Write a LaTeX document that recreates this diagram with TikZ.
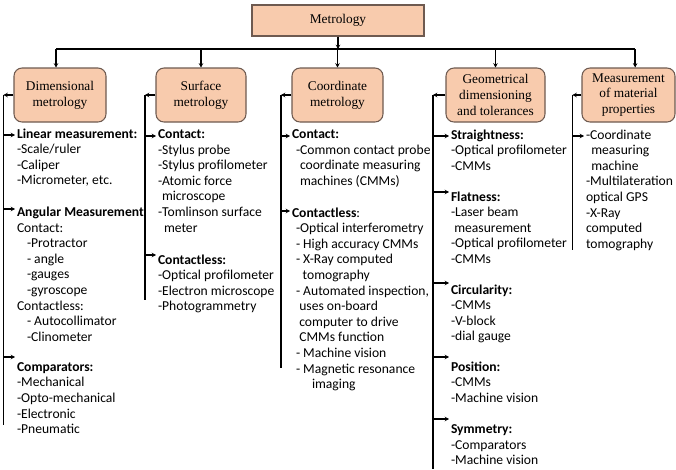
\documentclass[tikz,border=0pt]{standalone}
\usepackage{fontspec}
\setmainfont{Carlito}
\newfontfamily\boxfont{Liberation Serif}
\usetikzlibrary{arrows.meta,positioning}

\definecolor{peach}{RGB}{248,203,173}
\definecolor{boxline}{RGB}{110,90,80}
\newcommand{\ind}[1]{\hspace*{#1pt}}

\tikzset{every picture/.style={line width=0.75pt}}
\tikzset{
  topbox/.style={draw=boxline, fill=peach, line width=0.8pt, align=center, inner sep=0pt,
    font=\boxfont\fontsize{10}{11.8}\selectfont},
  subbox/.style={topbox, rounded corners=6pt, minimum height=40.5pt},
  link/.style={line width=1.2pt},
  tip/.style={link, -{Stealth[length=3.2pt,width=3.4pt]}},
  items/.style={anchor=north west, inner sep=0pt, outer sep=0pt, outer xsep=1.5pt, align=left,
    font=\fontsize{10.2}{11.7}\selectfont, execute at begin node=\strut}
}

\begin{document}
\begin{tikzpicture}[x=0.75pt,y=0.75pt,yscale=-1]
\useasboundingbox (0,0) rectangle (676,469);

% Boxes
\node[topbox, minimum width=129pt, minimum height=23.25pt] (metro) at (338,20.5) {Metrology};
\node[subbox, minimum width=69pt] (dim) at (60,95) {Dimensional\\metrology};
\node[subbox, minimum width=67.5pt] (surf) at (201,95) {Surface\\metrology};
\node[subbox, minimum width=68.25pt] (coord) at (337.5,95) {Coordinate\\metrology};
\node[subbox, minimum width=74.25pt] (gdt) at (495.5,95) {Geometrical\\dimensioning\\and tolerances};
\node[subbox, minimum width=69.75pt] (matl) at (628.5,95) {Measurement\\of material\\properties};

% Top bar
\coordinate (bar) at (338,49);
\coordinate (dimtop) at ([xshift=-3pt]dim.north);
\coordinate (matltop) at ([xshift=5pt]matl.north);
\draw[tip] (metro.south) -- (bar);
\draw[link] (dimtop |- bar) -- (matltop |- bar);
\foreach \b in {dimtop, surf.north, coord.north, gdt.north, matltop}
  \draw[tip] (\b |- bar) -- (\b);

% Spines
\coordinate (dimS) at (3.5,425);
\coordinate (surfS) at (145,300);
\coordinate (coordS) at (281,368);
\coordinate (gdtS) at (433,469);
\coordinate (matlS) at (572.5,250);
\foreach \n/\s in {dim/dimS, surf/surfS, coord/coordS, gdt/gdtS, matl/matlS}{
  \draw[tip] (\n.west) -- (\n.west -| \s);
  \draw[link] (\n.west -| \s) -- (\s);
}

% Dimensional metrology
\node[items] (lin) at (15,128.6) {\textbf{Linear measurement:}\\-Scale/ruler\\-Caliper\\-Micrometer, etc.};
\node[items] (ang) at (15,206.9) {\textbf{Angular Measurement}\\Contact:\\\ind{7.5}-Protractor\\\ind{7.5}- angle\\\ind{7.5}-gauges\\\ind{7.5}-gyroscope\\Contactless:\\\ind{7.5}- Autocollimator\\\ind{7.5}-Clinometer};
\node[items] (comp) at (15,362.3) {\textbf{Comparators:}\\-Mechanical\\-Opto-mechanical\\-Electronic\\-Pneumatic};
\draw[tip] (dimS |- 0,135) -- (lin.west |- 0,135);
\draw[tip] (dimS |- 0,209) -- (ang.west |- 0,209);
\draw[tip] (dimS |- 0,357) -- (comp.west |- 0,357);

% Surface metrology
\node[items] (scon) at (156,129.6) {\textbf{Contact:}\\-Stylus probe\\-Stylus profilometer\\-Atomic force\\\ind{3}microscope\\-Tomlinson surface\\\ind{4.5}meter};
\node[items] (sless) at (156,254.6) {\textbf{Contactless:}\\-Optical profilometer\\-Electron microscope\\-Photogrammetry};
\draw[tip] (surfS |- 0,136) -- (scon.west |- 0,136);
\draw[tip] (surfS |- 0,255) -- (sless.west |- 0,255);

% Coordinate metrology
\node[items] (ccon) at (290,129.6) {\textbf{Contact:}\\\ind{3}-Common contact probe\\\ind{6}coordinate measuring\\\ind{6}machines (CMMs)};
\node[items] (cless) at (290,207.6) {\textbf{Contactless}:\\\ind{3}-Optical interferometry\\\ind{3}- High accuracy CMMs\\\ind{3}- X-Ray computed\\\ind{8}tomography\\\ind{3}- Automated inspection,\\\ind{5.5}uses on-board\\\ind{5.5}computer to drive\\\ind{5.5}CMMs function\\\ind{3}- Machine vision\\\ind{3}- Magnetic resonance\\\ind{15}imaging};
\draw[tip] (coordS |- 0,136) -- (ccon.west |- 0,136);
\draw[tip] (coordS |- 0,211) -- (cless.west |- 0,211);

% Geometrical dimensioning and tolerances
\node[items] (straight) at (449,129.6) {\textbf{Straightness:}\\-Optical profilometer\\-CMMs};
\node[items] (flat) at (449,191.6) {\textbf{Flatness:}\\-Laser beam\\\ind{2.5}measurement\\-Optical profilometer\\-CMMs};
\node[items] (circ) at (449,284.6) {\textbf{Circularity:}\\-CMMs\\-V-block\\-dial gauge};
\node[items] (pos) at (449,361.6) {\textbf{Position:}\\-CMMs\\-Machine vision};
\node[items] (sym) at (449,424.6) {\textbf{Symmetry:}\\-Comparators\\-Machine vision};
\draw[tip] (gdtS |- 0,136) -- (straight.west |- 0,136);
\draw[tip] (gdtS |- 0,192) -- (flat.west |- 0,192);
\draw[tip] (gdtS |- 0,283) -- (circ.west |- 0,283);
\draw[tip] (gdtS |- 0,357) -- (pos.west |- 0,357);
\draw[tip] (gdtS |- 0,419) -- (sym.west |- 0,419);

% Measurement of material properties
\node[items] (mprop) at (584,129.6) {-Coordinate\\\ind{4}measuring\\\ind{4}machine\\-Multilateration\\optical GPS\\-X-Ray\\computed\\tomography};
\draw[tip] (matlS |- 0,136) -- (mprop.west |- 0,136);

\end{tikzpicture}
\end{document}
